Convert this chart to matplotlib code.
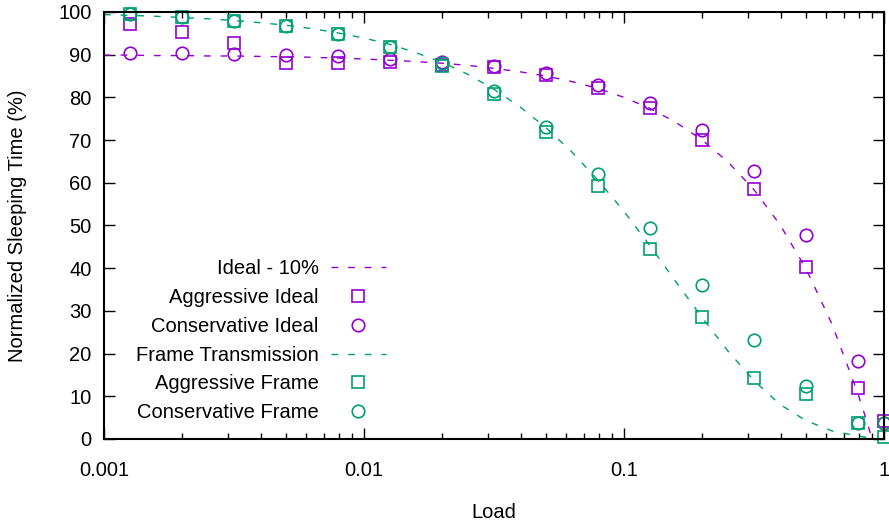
import matplotlib
matplotlib.use("Agg")
import matplotlib.pyplot as plt
from matplotlib.ticker import FixedLocator, FuncFormatter, LogLocator, NullFormatter

plt.rcParams['font.family'] = ['Liberation Sans', 'DejaVu Sans']

# Measured loads
loads = [0.00126, 0.002, 0.00316, 0.005, 0.00794, 0.0126, 0.02, 0.0316,
         0.05, 0.0794, 0.126, 0.2, 0.316, 0.5, 0.794, 1.0]

aggressive_ideal = [97.2, 95.3, 92.7, 88.1, 88.0, 88.3, 87.6, 87.1,
                    85.2, 82.2, 77.5, 70.0, 58.5, 40.3, 11.9, 4.2]
conservative_ideal = [90.4, 90.4, 90.1, 89.9, 89.7, 88.9, 88.2, 87.4,
                      85.7, 82.9, 78.7, 72.4, 62.8, 47.8, 18.3, 3.8]
aggressive_frame = [99.5, 98.8, 97.9, 96.7, 94.8, 91.8, 87.4, 80.8,
                    71.9, 59.3, 44.5, 28.6, 14.3, 10.5, 3.7, 0.5]
conservative_frame = [99.5, 98.8, 97.9, 96.7, 94.8, 91.8, 88.0, 81.5,
                      73.1, 62.0, 49.4, 36.1, 23.2, 12.4, 3.8, 3.8]

# Reference curves
curve_x = [0.001, 0.00126, 0.00158, 0.002, 0.00251, 0.00316, 0.00398, 0.00501,
           0.00631, 0.00794, 0.01, 0.0126, 0.0158, 0.02, 0.0251, 0.0316,
           0.0398, 0.0501, 0.0631, 0.0794, 0.1, 0.126, 0.158, 0.2, 0.251,
           0.316, 0.398, 0.501, 0.631, 0.794, 0.85, 0.9]
ideal_curve = [89.9, 89.9, 89.8, 89.8, 89.7, 89.7, 89.6, 89.5, 89.4, 89.2,
               89.0, 88.7, 88.4, 88.0, 87.5, 86.8, 86.0, 85.0, 83.7, 82.1,
               80.0, 77.4, 74.2, 70.0, 64.9, 58.4, 50.2, 39.9, 26.9, 10.6,
               5.0, 0.0]
frame_curve = [99.4, 99.2, 99.0, 98.7, 98.4, 98.0, 97.5, 96.9, 96.1, 95.1,
               93.9, 92.4, 90.5, 88.2, 85.4, 81.9, 77.8, 72.9, 67.2, 60.6,
               53.3, 45.2, 36.9, 28.4, 20.6, 13.7, 8.1, 4.3, 1.9, 0.7,
               0.4, 0.2]

xticks = [0.001, 0.01, 0.1, 1]
yticks = [0, 10, 20, 30, 40, 50, 60, 70, 80, 90, 100]

purple = '#9400D3'
green = '#009E73'
FS = 14.5

W, H = 889, 522
fig = plt.figure(figsize=(W / 100, H / 100), dpi=100)
ax = fig.add_axes([104 / W, 1 - 439 / H, (884 - 104) / W, (439 - 12) / H])

dash = (0, (4.8, 7.2))
ms = 8
mew = 1.2
ax.plot(curve_x, ideal_curve, color=purple, lw=1.0, linestyle=dash, label='Ideal - 10%')
ax.plot(loads, aggressive_ideal, linestyle='none', marker='s', ms=ms, mew=mew,
        mfc='none', mec=purple, clip_on=False, label='Aggressive Ideal')
ax.plot(loads, conservative_ideal, linestyle='none', marker='o', ms=ms + 1, mew=mew,
        mfc='none', mec=purple, clip_on=False, label='Conservative Ideal')
ax.plot(curve_x, frame_curve, color=green, lw=1.0, linestyle=dash, label='Frame Transmission')
ax.plot(loads, aggressive_frame, linestyle='none', marker='s', ms=ms, mew=mew,
        mfc='none', mec=green, clip_on=False, label='Aggressive Frame')
ax.plot(loads, conservative_frame, linestyle='none', marker='o', ms=ms + 1, mew=mew,
        mfc='none', mec=green, clip_on=False, label='Conservative Frame')

ax.set_xscale('log')
ax.set_xlim(0.001, 1)
ax.set_ylim(0, 100)
ax.xaxis.set_major_locator(FixedLocator(xticks))
ax.xaxis.set_major_formatter(FuncFormatter(lambda v, p: ('%g' % v)))
ax.xaxis.set_minor_locator(LogLocator(base=10, subs=range(2, 10)))
ax.xaxis.set_minor_formatter(NullFormatter())
ax.yaxis.set_major_locator(FixedLocator(yticks))

for sp in ax.spines.values():
    sp.set_linewidth(1.5)
ax.tick_params(which='both', direction='in', top=True, right=True,
               labelsize=FS, colors='black')
ax.tick_params(which='major', length=8, width=1.0)
ax.tick_params(which='minor', length=4, width=1.0)
ax.tick_params(axis='x', which='major', pad=16)
ax.tick_params(axis='y', which='major', pad=9)

ax.set_xlabel('Load', fontsize=FS)
ax.set_ylabel('Normalized Sleeping Time (%)', fontsize=FS)
ax.xaxis.set_label_coords(0.5, -(512 - 439) / (439 - 12), transform=ax.transAxes)
ax.xaxis.label.set_va('center')
ax.yaxis.set_label_coords(-(104 - 18) / (884 - 104), 0.5, transform=ax.transAxes)
ax.yaxis.label.set_va('center')

leg = ax.legend(loc='upper right', bbox_to_anchor=(386 / W, 1 - 259 / H),
                bbox_transform=fig.transFigure, frameon=False, markerfirst=False,
                numpoints=1, fontsize=FS, handlelength=2.75, handletextpad=0.6,
                labelspacing=0.49, borderpad=0, borderaxespad=0)
for t in leg.get_texts():
    t.set_ha('right')

fig.savefig('out.png', dpi=100)
